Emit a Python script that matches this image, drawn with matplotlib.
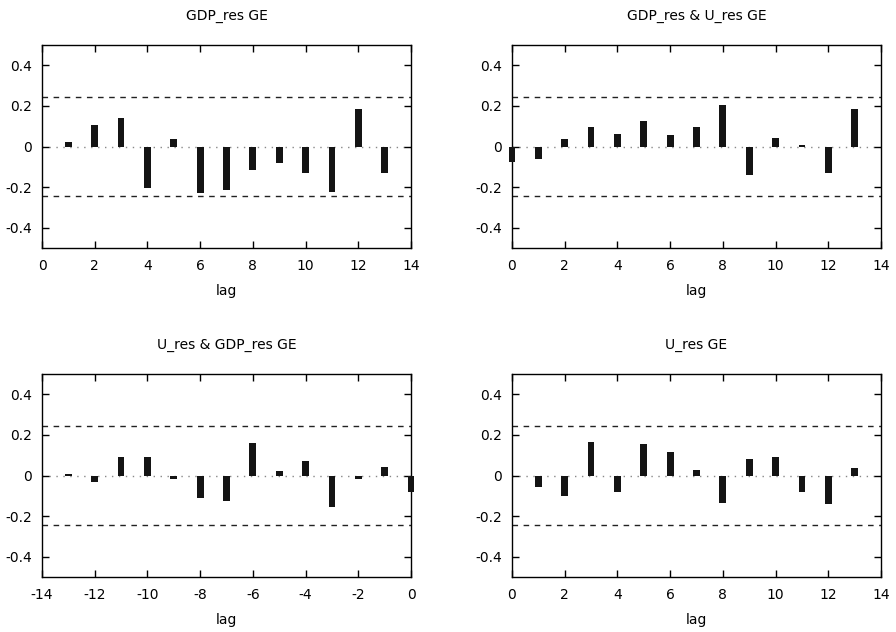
import numpy as np
import matplotlib.pyplot as plt

# correlogram values
lags_gdp = np.arange(1, 14)
acf_gdp = [0.021, 0.107, 0.138, -0.203, 0.037, -0.231, -0.216, -0.117, -0.083, -0.133, -0.223, 0.187, -0.132]

lags_cross_pos = np.arange(0, 14)
ccf_gdp_u = [-0.078, -0.062, 0.036, 0.094, 0.060, 0.125, 0.055, 0.096, 0.202, -0.138, 0.041, 0.008, -0.130, 0.187]

lags_cross_neg = np.arange(-13, 1)
ccf_u_gdp = [0.008, -0.031, 0.093, 0.089, -0.016, -0.113, -0.125, 0.159, 0.023, 0.069, -0.156, -0.016, 0.044, -0.080]

lags_u = np.arange(1, 14)
acf_u = [-0.056, -0.102, 0.164, -0.082, 0.156, 0.115, 0.026, -0.134, 0.080, 0.089, -0.080, -0.139, 0.038]

bound = 0.243

titles = ["GDP_res GE", "GDP_res & U_res GE", "U_res & GDP_res GE", "U_res GE"]
xlims = [(0, 14), (0, 14), (-14, 0), (0, 14)]

plt.rcParams['font.family'] = 'DejaVu Sans'
fig = plt.figure(figsize=(8.96, 6.32), dpi=100)

W, H = 896, 632
boxes = [(42, 45), (512, 45), (42, 374), (512, 374)]
pw, ph = 369, 203

data = [(lags_gdp, acf_gdp), (lags_cross_pos, ccf_gdp_u), (lags_cross_neg, ccf_u_gdp), (lags_u, acf_u)]

for i in range(4):
    x0, y0 = boxes[i]
    ax = fig.add_axes([x0 / W, 1 - (y0 + ph) / H, pw / W, ph / H])
    lags, vals = data[i]
    ax.bar(lags, vals, width=0.26, color='#141414', clip_on=False, zorder=3)
    ax.axhline(0, color='#888888', lw=1, ls=(0, (1, 4)), zorder=1)
    ax.axhline(bound, color='#222222', lw=1, ls=(0, (4, 4)))
    ax.axhline(-bound, color='#222222', lw=1, ls=(0, (4, 4)))
    ax.set_xlim(*xlims[i])
    ax.set_ylim(-0.5, 0.5)
    ax.set_xticks(np.arange(xlims[i][0], xlims[i][1] + 1, 2))
    ax.set_yticks([-0.4, -0.2, 0, 0.2, 0.4])
    ax.set_yticklabels(['-0.4', '-0.2', '0', '0.2', '0.4'])
    ax.set_xticklabels([str(v) for v in ax.get_xticks().astype(int)])
    ax.tick_params(direction='in', top=True, right=True, length=5, width=1, labelsize=10)
    ax.tick_params(axis='x', pad=8)
    ax.tick_params(axis='y', pad=7)
    for s in ax.spines.values():
        s.set_linewidth(1)
    ax.set_xlabel('lag', fontsize=10, labelpad=8)
    ax.set_title(titles[i], fontsize=10, pad=18)

fig.savefig('out.png', dpi=100)
